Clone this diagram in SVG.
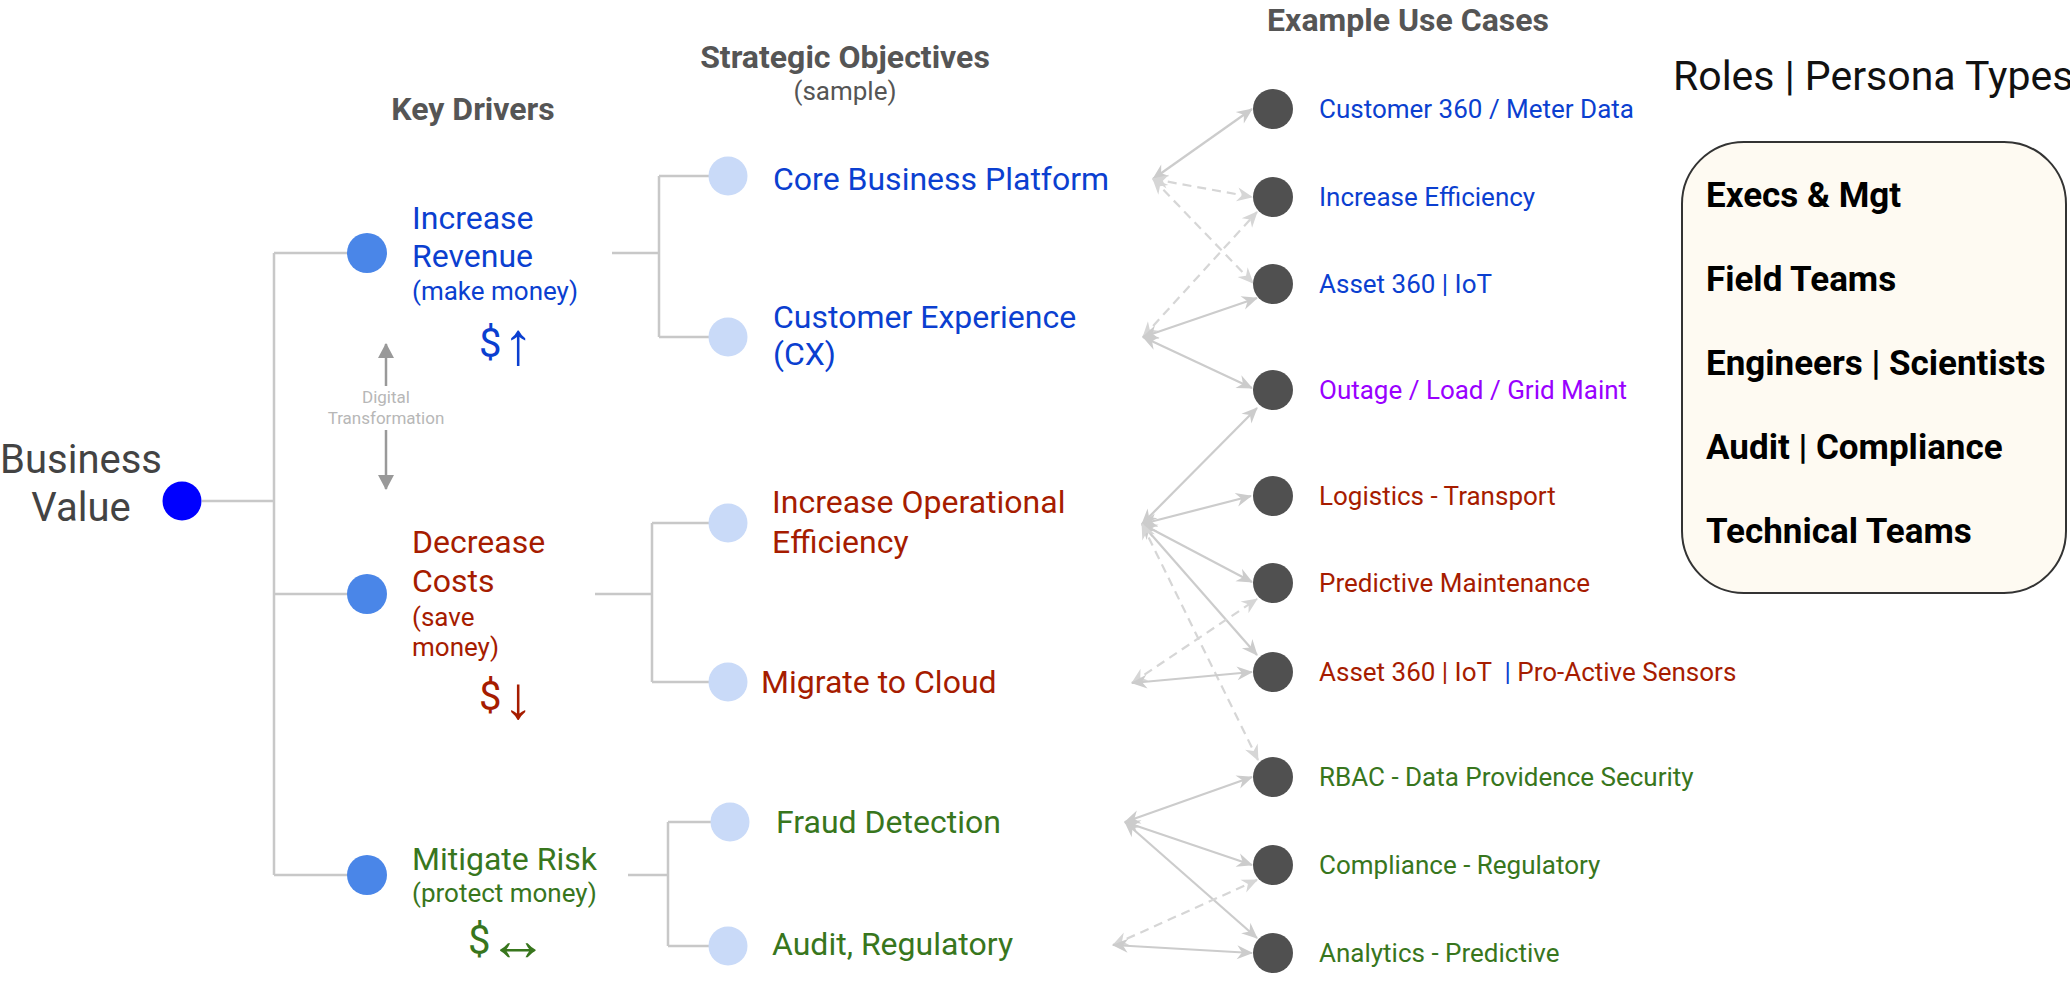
<svg xmlns="http://www.w3.org/2000/svg" width="2070" height="981" viewBox="0 0 2070 981">
<style>
text{font-family:Roboto,"Liberation Sans",sans-serif}
.hdr{font-weight:bold;fill:#555555;font-size:32px}
.blue{fill:#0b3fd0}.red{fill:#a61c00}.green{fill:#38761d}.purple{fill:#9900ff}
.drv{font-size:32px}.sub{font-size:26px}.obj{font-size:32px}.uc{font-size:26px;white-space:pre}
.dol{font-size:40px}
.arr{font-family:"Liberation Sans",Arial,sans-serif;font-size:60px}
.role{font-weight:bold;font-size:35px;fill:#000}
.tree{stroke:#c8c8c8;stroke-width:2.5;fill:none}
.c{stroke:#cccccc;stroke-width:2.2;fill:none;marker-start:url(#ah);marker-end:url(#ah)}
.d{stroke:#d6d6d6;stroke-width:2.2;fill:none;stroke-dasharray:9 6;marker-start:url(#ahd);marker-end:url(#ahd)}
.uc-dot{fill:#505050}
.obj-dot{fill:#c9daf8}
.drv-dot{fill:#4a86e8}
</style>
<defs>
<marker id="ah" viewBox="-16 -8 18 16" refX="0" refY="0" markerWidth="18" markerHeight="16" markerUnits="userSpaceOnUse" orient="auto-start-reverse"><path d="M1,0 L-15,-7 L-10,0 L-15,7 Z" fill="#cccccc"/></marker>
<marker id="ahd" viewBox="-16 -8 18 16" refX="0" refY="0" markerWidth="18" markerHeight="16" markerUnits="userSpaceOnUse" orient="auto-start-reverse"><path d="M1,0 L-15,-7 L-10,0 L-15,7 Z" fill="#d6d6d6"/></marker>
<marker id="gah" viewBox="-16 -9 18 18" refX="0" refY="0" markerWidth="18" markerHeight="18" markerUnits="userSpaceOnUse" orient="auto-start-reverse"><path d="M1,0 L-14,-8 L-14,8 Z" fill="#999999"/></marker>
</defs>

<!-- headers -->
<text class="hdr" x="473" y="120" text-anchor="middle">Key Drivers</text>
<text class="hdr" x="845" y="68" text-anchor="middle">Strategic Objectives</text>
<text x="845" y="100" text-anchor="middle" font-size="26" fill="#555555">(sample)</text>
<text class="hdr" x="1408" y="31" text-anchor="middle">Example Use Cases</text>
<text x="1673" y="90" font-size="41" fill="#111111">Roles | Persona Types</text>

<!-- tree connectors -->
<g id="connectors">
<path class="tree" d="M202,501 H274 M274,253 V875 M274,253 H348 M274,594 H348 M274,875 H348"/>
<path class="tree" d="M612,253 H659 M659,176 V337 M659,176 H709 M659,337 H709"/>
<path class="tree" d="M595,594 H652 M652,523 V682 M652,523 H709 M652,682 H709"/>
<path class="tree" d="M628,875 H668 M668,822 V946 M668,822 H711 M668,946 H709"/>
<line x1="386" y1="386" x2="386" y2="344" stroke="#999999" stroke-width="2.5" marker-end="url(#gah)"/>
<line x1="386" y1="430" x2="386" y2="489" stroke="#999999" stroke-width="2.5" marker-end="url(#gah)"/>
<!-- use case links -->
<line class="c" x1="1153" y1="179" x2="1252" y2="109"/>
<line class="d" x1="1153" y1="179" x2="1252" y2="197"/>
<line class="d" x1="1153" y1="179" x2="1253" y2="283"/>
<line class="d" x1="1143" y1="337" x2="1257" y2="212"/>
<line class="c" x1="1143" y1="337" x2="1257" y2="298"/>
<line class="c" x1="1143" y1="337" x2="1252" y2="388"/>
<line class="c" x1="1142" y1="524" x2="1257" y2="408"/>
<line class="c" x1="1142" y1="524" x2="1251" y2="496"/>
<line class="c" x1="1142" y1="524" x2="1252" y2="582"/>
<line class="c" x1="1142" y1="524" x2="1257" y2="655"/>
<line class="d" x1="1142" y1="524" x2="1258" y2="760"/>
<line class="d" x1="1132" y1="683" x2="1257" y2="599"/>
<line class="c" x1="1132" y1="683" x2="1252" y2="672"/>
<line class="c" x1="1125" y1="822" x2="1252" y2="777"/>
<line class="c" x1="1125" y1="822" x2="1252" y2="865"/>
<line class="c" x1="1125" y1="822" x2="1257" y2="938"/>
<line class="d" x1="1113" y1="945" x2="1257" y2="880"/>
<line class="c" x1="1113" y1="945" x2="1252" y2="953"/>
</g>
<text x="386" y="403" text-anchor="middle" font-size="17" fill="#b7b7b7">Digital</text>
<text x="386" y="424" text-anchor="middle" font-size="17" fill="#b7b7b7">Transformation</text>

<!-- root -->
<g id="business-value">
<circle cx="182" cy="501" r="19.5" fill="#0000ff"/>
<text x="81" y="473" text-anchor="middle" font-size="40" fill="#434343">Business</text>
<text x="81" y="521" text-anchor="middle" font-size="40" fill="#434343">Value</text>
</g>

<!-- drivers -->
<g id="increase-revenue">
<circle class="drv-dot" cx="367" cy="253" r="20"/>
<text class="drv blue" x="412" y="229">Increase</text>
<text class="drv blue" x="412" y="267">Revenue</text>
<text class="sub blue" x="412" y="300">(make money)</text>
<text class="blue"><tspan class="dol" x="479" y="357">$</tspan><tspan class="arr" x="518" y="364" text-anchor="middle">↑</tspan></text>
</g>
<g id="decrease-costs">
<circle class="drv-dot" cx="367" cy="594" r="20"/>
<text class="drv red" x="412" y="553">Decrease</text>
<text class="drv red" x="412" y="592">Costs</text>
<text class="sub red" x="412" y="626">(save</text>
<text class="sub red" x="412" y="656">money)</text>
<text class="red"><tspan class="dol" x="479" y="710">$</tspan><tspan class="arr" x="518" y="718" text-anchor="middle">↓</tspan></text>
</g>
<g id="mitigate-risk">
<circle class="drv-dot" cx="367" cy="875" r="20"/>
<text class="drv green" x="412" y="870">Mitigate Risk</text>
<text class="sub green" x="412" y="902">(protect money)</text>
<text class="green"><tspan class="dol" x="468" y="954">$</tspan><tspan class="arr" x="518" y="960" text-anchor="middle" font-size="52">↔</tspan></text>
</g>

<!-- objectives -->
<g id="core-business-platform">
<circle class="obj-dot" cx="728" cy="176" r="19.5"/>
<text class="obj blue" x="773" y="190">Core Business Platform</text>
</g>
<g id="customer-experience">
<circle class="obj-dot" cx="728" cy="337" r="19.5"/>
<text class="obj blue" x="773" y="328">Customer Experience</text>
<text class="obj blue" x="773" y="365">(CX)</text>
</g>
<g id="increase-operational-efficiency">
<circle class="obj-dot" cx="728" cy="523" r="19.5"/>
<text class="obj red" x="772" y="513">Increase Operational</text>
<text class="obj red" x="772" y="553">Efficiency</text>
</g>
<g id="migrate-to-cloud">
<circle class="obj-dot" cx="728" cy="682" r="19.5"/>
<text class="obj red" x="761" y="693">Migrate to Cloud</text>
</g>
<g id="fraud-detection">
<circle class="obj-dot" cx="730" cy="822" r="19.5"/>
<text class="obj green" x="776" y="833">Fraud Detection</text>
</g>
<g id="audit-regulatory">
<circle class="obj-dot" cx="728" cy="946" r="19.5"/>
<text class="obj green" x="772" y="955">Audit, Regulatory</text>
</g>

<!-- use cases -->
<g id="uc-customer360"><circle class="uc-dot" cx="1273" cy="109" r="20"/><text class="uc blue" x="1319" y="118">Customer 360 / Meter Data</text></g>
<g id="uc-increase-efficiency"><circle class="uc-dot" cx="1273" cy="197" r="20"/><text class="uc blue" x="1319" y="206">Increase Efficiency</text></g>
<g id="uc-asset360-iot"><circle class="uc-dot" cx="1273" cy="284" r="20"/><text class="uc blue" x="1319" y="293">Asset 360 | IoT</text></g>
<g id="uc-outage"><circle class="uc-dot" cx="1273" cy="390" r="20"/><text class="uc purple" x="1319" y="399">Outage / Load / Grid Maint</text></g>
<g id="uc-logistics"><circle class="uc-dot" cx="1273" cy="496" r="20"/><text class="uc red" x="1319" y="505">Logistics - Transport</text></g>
<g id="uc-predictive-maintenance"><circle class="uc-dot" cx="1273" cy="583" r="20"/><text class="uc red" x="1319" y="592">Predictive Maintenance</text></g>
<g id="uc-asset360-sensors"><circle class="uc-dot" cx="1273" cy="672" r="20"/><text class="uc red" x="1319" y="681">Asset 360 | IoT  <tspan class="blue">|</tspan> Pro-Active Sensors</text></g>
<g id="uc-rbac"><circle class="uc-dot" cx="1273" cy="777" r="20"/><text class="uc green" x="1319" y="786">RBAC - Data Providence Security</text></g>
<g id="uc-compliance"><circle class="uc-dot" cx="1273" cy="865" r="20"/><text class="uc green" x="1319" y="874">Compliance - Regulatory</text></g>
<g id="uc-analytics"><circle class="uc-dot" cx="1273" cy="953" r="20"/><text class="uc green" x="1319" y="962">Analytics - Predictive</text></g>

<!-- roles -->
<g id="roles-box">
<rect x="1682" y="142" width="384" height="451" rx="62" ry="62" fill="#fefaf2" stroke="#333333" stroke-width="2"/>
<text class="role" x="1706" y="207">Execs &amp; Mgt</text>
<text class="role" x="1706" y="291">Field Teams</text>
<text class="role" x="1706" y="375">Engineers | Scientists</text>
<text class="role" x="1706" y="459">Audit | Compliance</text>
<text class="role" x="1706" y="543">Technical Teams</text>
</g>
</svg>
